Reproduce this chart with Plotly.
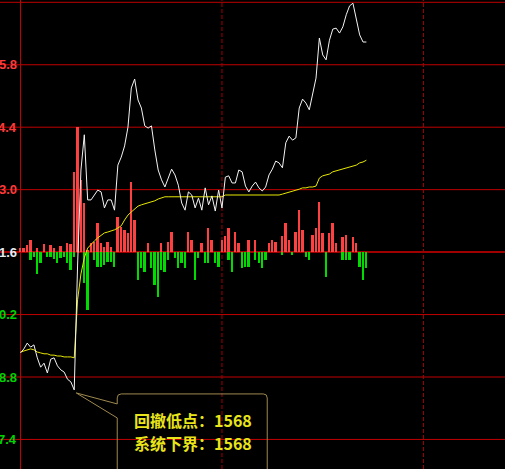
import numpy as np
import plotly.graph_objects as go

# ---- data (one value per minute) ----
price = [1569.34, 1569.43, 1569.56, 1569.47, 1569.52, 1569.23, 1569.02, 1569.11, 1568.89, 1569.20,
         1569.23, 1569.05, 1568.96, 1568.91, 1568.75, 1568.69, 1568.51, 1571.31, 1573.44, 1574.23,
         1572.77, 1572.77, 1572.88, 1572.99, 1572.95, 1572.59, 1572.77, 1572.77, 1572.54, 1573.55,
         1573.73, 1573.98, 1574.40, 1575.28, 1575.48, 1575.01, 1574.83, 1574.43, 1574.38, 1574.43,
         1573.89, 1573.44, 1573.22, 1573.06, 1573.26, 1573.46, 1573.33, 1573.10, 1572.70, 1572.54,
         1572.95, 1572.88, 1572.59, 1572.81, 1572.54, 1573.04, 1572.66, 1572.86, 1572.52, 1572.99,
         1572.59, 1573.28, 1573.31, 1573.15, 1573.15, 1573.44, 1573.40, 1573.08, 1572.95, 1573.08,
         1573.17, 1573.04, 1572.97, 1573.06, 1573.33, 1573.46, 1573.64, 1573.60, 1573.49, 1574.05,
         1574.20, 1574.11, 1574.16, 1574.83, 1575.03, 1574.94, 1574.79, 1575.14, 1575.50, 1576.40,
         1576.02, 1575.91, 1576.35, 1576.60, 1576.62, 1576.51, 1576.65, 1576.92, 1577.12, 1577.18,
         1576.80, 1576.47, 1576.31, 1576.31]

avg_price = [1569.36, 1569.38, 1569.41, 1569.43, 1569.41, 1569.36, 1569.34, 1569.32, 1569.32, 1569.29,
             1569.29, 1569.27, 1569.27, 1569.25, 1569.25, 1569.25, 1569.23, 1570.53, 1571.11, 1571.47,
             1571.69, 1571.78, 1571.85, 1571.92, 1571.98, 1572.03, 1572.05, 1572.07, 1572.10, 1572.14,
             1572.19, 1572.32, 1572.43, 1572.50, 1572.57, 1572.63, 1572.66, 1572.68, 1572.70, 1572.72,
             1572.75, 1572.79, 1572.81, 1572.84, 1572.84, 1572.84, 1572.84, 1572.84, 1572.84, 1572.84,
             1572.84, 1572.84, 1572.84, 1572.84, 1572.84, 1572.84, 1572.84, 1572.84, 1572.84, 1572.84,
             1572.84, 1572.88, 1572.88, 1572.88, 1572.88, 1572.88, 1572.88, 1572.88, 1572.88, 1572.88,
             1572.88, 1572.88, 1572.88, 1572.88, 1572.88, 1572.88, 1572.88, 1572.88, 1572.90, 1572.92,
             1572.95, 1572.97, 1572.99, 1573.01, 1573.04, 1573.04, 1573.06, 1573.06, 1573.08, 1573.26,
             1573.31, 1573.33, 1573.35, 1573.40, 1573.42, 1573.44, 1573.46, 1573.49, 1573.51, 1573.53,
             1573.55, 1573.60, 1573.62, 1573.66]

bar_up = [4, 4, 7, 12, 0, 4, 0, 8, 0, 7,
          4, 0, 6, 0, 9, 8, 80, 125, 72, 49,
          2, 9, 10, 29, 9, 5, 10, 5, 0, 35,
          25, 22, 19, 70, 32, 0, 0, 0, 9, 0,
          0, 0, 9, 0, 10, 20, 0, 0, 0, 0,
          20, 12, 0, 0, 9, 0, 24, 12, 0, 0,
          12, 16, 24, 0, 20, 9, 0, 0, 12, 0,
          12, 0, 0, 0, 9, 12, 10, 0, 16, 29,
          12, 0, 20, 42, 22, 0, 0, 17, 24, 50,
          19, 0, 19, 29, 9, 0, 15, 17, 0, 15,
          9, 0, 0, 0]

bar_down = [0, 0, 0, -8, -5, -22, -11, 0, -5, -5,
            -7, -11, -6, -5, -11, -18, -5, 0, 0, -31,
            -58, 0, -8, -15, -15, -13, -10, -10, -15, 0,
            0, 0, 0, 0, 0, -28, -16, -20, 0, -16,
            -33, -45, -18, -20, -8, 0, -6, -16, -11, -16,
            0, 0, -28, -6, 0, -11, -11, 0, -11, -15,
            0, 0, -8, -20, 0, 0, -16, -15, -15, 0,
            -8, -11, -16, -8, 0, 0, 0, 0, -3, 0,
            0, -3, 0, 0, 0, -5, -8, 0, 0, 0,
            0, -25, 0, 0, 0, 0, -8, -8, -8, 0,
            0, -15, -28, -16]

prev_close = 1571.6
grid_vals = [1577.2, 1575.8, 1574.4, 1573.0, 1571.6, 1570.2, 1568.8, 1567.4]
tick_vals = [1575.8, 1574.4, 1573.0, 1571.6, 1570.2, 1568.8, 1567.4]
tick_text = ["5.8", "4.4", "3.0", "1.6", "0.2", "8.8", "7.4"]
session_marks = [60, 120]
label_low = "回撤低点："
label_floor = "系统下界："

minutes = list(range(len(price)))

fig = go.Figure()
fig.add_trace(go.Bar(x=minutes, y=bar_up, marker=dict(color="#ff4040", line=dict(width=0)),
                     width=0.55, yaxis="y", showlegend=False, hoverinfo="skip"))
fig.add_trace(go.Bar(x=minutes, y=bar_down, marker=dict(color="#00dc00", line=dict(width=0)),
                     width=0.55, yaxis="y", showlegend=False, hoverinfo="skip"))
fig.add_trace(go.Scatter(x=minutes, y=avg_price, mode="lines", line=dict(color="#e8e800", width=1),
                         yaxis="y2", showlegend=False, hoverinfo="skip"))
fig.add_trace(go.Scatter(x=minutes, y=price, mode="lines", line=dict(color="#f4f4f4", width=1),
                         yaxis="y2", showlegend=False, hoverinfo="skip"))

shapes = []
for v in grid_vals:
    base = abs(v - prev_close) < 1e-6
    shapes.append(dict(type="line", xref="paper", x0=0, x1=1, yref="y2", y0=v, y1=v,
                       line=dict(color="#a00000" if base else "#c00000", width=2 if base else 1),
                       layer="below"))
shapes.append(dict(type="line", xref="x", x0=0, x1=0, yref="paper", y0=0, y1=1,
                   line=dict(color="#c00000", width=1), layer="below"))
for m in session_marks:
    shapes.append(dict(type="line", xref="x", x0=m, x1=m, yref="paper", y0=0, y1=1,
                       line=dict(color="#a00000", width=1, dash="4px,2px"), layer="below"))

i_low = int(np.argmin(price))
low_val = price[i_low]
# callout bubble attached to the low point (pixel offsets)
shapes.append(dict(type="path", xref="x", yref="y2", xsizemode="pixel", ysizemode="pixel",
                   xanchor=i_low, yanchor=low_val,
                   path="M 2,-3 L 43,-14 L 43,-8 Q 43,-4 47,-4 L 189,-4 Q 193,-4 193,-8 L 193,-100 "
                        "M 43,-28 L 43,-100 M 2,-3 L 43,-28",
                   line=dict(color="#a08a50", width=1)))

annotations = []
for v, t in zip(tick_vals, tick_text):
    if abs(v - prev_close) < 1e-6:
        col = "#e6ecf4"
    elif v > prev_close:
        col = "#ff3a3a"
    else:
        col = "#00d400"
    annotations.append(dict(xref="paper", x=19 / 505, xanchor="right", yref="y2", y=v,
                            yanchor="middle", text=t, showarrow=False,
                            font=dict(family="Liberation Sans", size=13, color=col, weight="bold")))

for txt, dy in [(label_low, -30), (label_floor, -53)]:
    annotations.append(dict(xref="x", x=i_low, yref="y2", y=low_val, xanchor="left", yanchor="middle",
                            xshift=58, yshift=dy, showarrow=False,
                            text=f"<b>{txt}{int(low_val)}</b>",
                            font=dict(family="Noto Sans CJK SC", size=16, color="#e8e41a")))

fig.update_layout(
    width=505, height=469, margin=dict(l=0, r=0, t=0, b=0),
    paper_bgcolor="black", plot_bgcolor="black",
    bargap=0, barmode="overlay", hovermode=False,
    xaxis=dict(range=[-6.105, 144.28], showgrid=False, zeroline=False, showticklabels=False,
               ticks="", fixedrange=True),
    yaxis=dict(range=[-216.9, 252.1], showgrid=False, zeroline=False, showticklabels=False,
               ticks="", fixedrange=True),
    yaxis2=dict(range=[1566.7375, 1577.2516], overlaying="y", showgrid=False, zeroline=False,
                showticklabels=False, ticks="", fixedrange=True),
    shapes=shapes, annotations=annotations,
)

fig.write_html("out.html", config={"displayModeBar": False},
               post_script="document.body.style.margin='0';document.body.style.background='black';")
